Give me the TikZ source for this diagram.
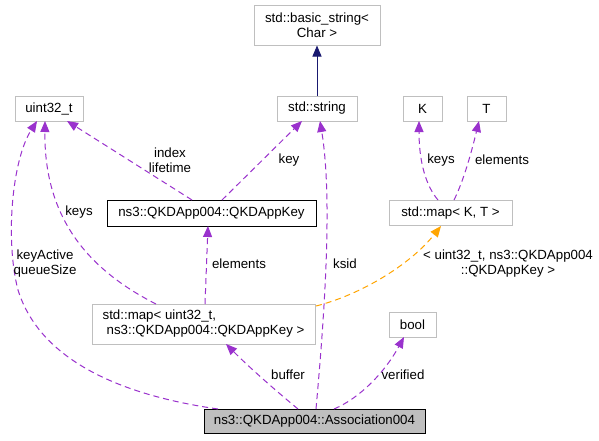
\documentclass[tikz,border=0pt]{standalone}
\usepackage{fontspec}
\setmainfont{Liberation Sans}
\usetikzlibrary{arrows.meta}
\definecolor{boxgrey}{HTML}{BFBFBF}
\definecolor{edgepurple}{HTML}{9A32CD}
\definecolor{edgeorange}{HTML}{FFA500}
\definecolor{edgenavy}{HTML}{191970}
\begin{document}
\begin{tikzpicture}[x=1pt,y=-1pt,
  every node/.style={font=\fontsize{13.3}{15}\selectfont, inner sep=0pt},
  cls/.style={draw=boxgrey, line width=1pt, fill=white, minimum height=25pt},
  docls/.style={draw=black, line width=1pt, fill=white, minimum height=26pt},
  focus/.style={draw=black, line width=1pt, fill=boxgrey, minimum height=24pt},
  usedep/.style={draw=edgepurple, line width=1pt, dash pattern=on 6pt off 4pt,
    -{Triangle[length=11pt,width=9pt]}, edgepurple},
  tmpl/.style={draw=edgeorange, line width=1pt, dash pattern=on 6pt off 4pt,
    -{Triangle[length=11pt,width=9pt]}, edgeorange},
  inherit/.style={draw=edgenavy, line width=1pt, -{Triangle[length=11pt,width=9pt]}, edgenavy},
  lbl/.style={text=black, align=center}
]
\useasboundingbox (0,0) rectangle (599,440);
\fill[white] (0,0) rectangle (599,440);

% nodes
\node[cls, minimum width=126pt, minimum height=40pt, align=center] (bs) at (317,25) {std::basic\_string<\\Char >};
\node[cls, minimum width=80pt] (str) at (317,108.5) {std::string};
\node[cls, minimum width=68pt] (u32) at (49,108.5) {uint32\_t};
\node[cls, minimum width=39pt] (K) at (422.5,108.5) {K};
\node[cls, minimum width=39pt] (T) at (486.5,108.5) {T};
\node[docls, minimum width=209pt] (key) at (211.5,213) {ns3::QKDApp004::QKDAppKey};
\node[cls, minimum width=123pt] (mapKT) at (450.5,213) {std::map< K, T >};
\node[cls, minimum width=223pt, minimum height=40pt, align=left] (mapU) at (203.5,324) {std::map< uint32\_t,\\\hspace{4pt}ns3::QKDApp004::QKDAppKey >};
\node[cls, minimum width=47pt] (bool) at (412.5,324.5) {bool};
\node[focus, minimum width=221pt] (assoc) at (314.5,421) {ns3::QKDApp004::Association004};

% anchor coordinates
\coordinate (s1) at (317,96);
\coordinate (t1) at (317,45.5);
\draw[inherit] (s1) -- (t1);

\coordinate (kA) at (192,200);
\coordinate (uA) at (67,121);
\draw[usedep] (kA) -- (uA);
\node[lbl] (lA) at (170,160) {index\\lifetime};

\coordinate (kB) at (222,200);
\coordinate (sB) at (302,121);
\draw[usedep] (kB) -- (sB);
\node[lbl] (lB) at (289,160) {key};

\coordinate (mC) at (156,304);
\coordinate (uC) at (45,121);
\draw[usedep] (mC) .. controls (85,268) and (44,215) .. (uC);
\node[lbl] (lC) at (79,212) {keys};

\coordinate (aD) at (218,409);
\coordinate (uD) at (37,121);
\draw[usedep] (aD) .. controls (120,395) and (40,360) .. (18,290) .. controls (5,240) and (12,160) .. (uD);
\node[lbl] (lD) at (45,264) {keyActive\\queueSize};

\coordinate (mE) at (205,304);
\coordinate (kE) at (208,226);
\draw[usedep] (mE) -- (kE);
\node[lbl] (lE) at (239,264) {elements};

\coordinate (aF) at (316,409);
\coordinate (sF) at (320,121);
\draw[usedep] (aF) .. controls (324,320) and (333,200) .. (sF);
\node[lbl] (lF) at (345,264) {ksid};

\coordinate (mG) at (316,306);
\coordinate (kG) at (441,226);
\draw[tmpl] (mG) .. controls (360,295) and (410,265) .. (kG);
\node[lbl] (lG) at (508,264) {< uint32\_t, ns3::QKDApp004\\::QKDAppKey >};

\coordinate (mH) at (438,200);
\coordinate (kH) at (419,121);
\draw[usedep] (mH) .. controls (426,186) and (419,162) .. (kH);
\node[lbl] (lH) at (441,160) {keys};

\coordinate (mI) at (454,200);
\coordinate (tI) at (479,121);
\draw[usedep] (mI) .. controls (464,180) and (472,150) .. (tI);
\node[lbl] (lI) at (502,160) {elements};

\coordinate (aJ) at (298,409);
\coordinate (mJ) at (226,344);
\draw[usedep] (aJ) .. controls (275,390) and (250,368) .. (mJ);
\node[lbl] (lJ) at (288,375) {buffer};

\coordinate (aK) at (334,409);
\coordinate (bK) at (404,337);
\draw[usedep] (aK) .. controls (360,398) and (385,372) .. (bK);
\node[lbl] (lK) at (403,375) {verified};
\end{tikzpicture}
\end{document}
